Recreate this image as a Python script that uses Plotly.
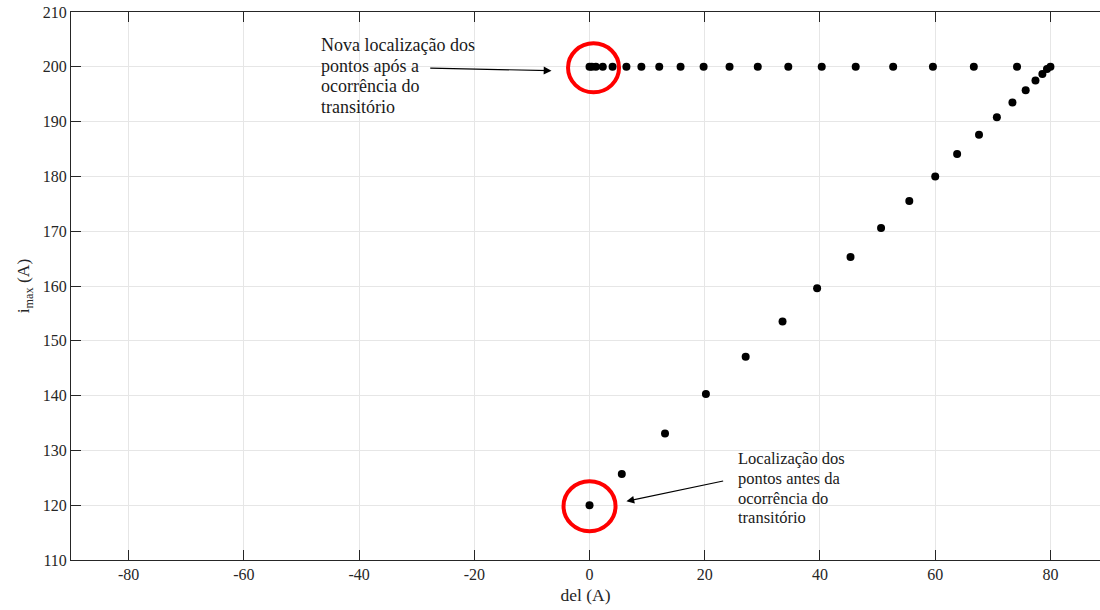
import plotly.graph_objects as go

# ---- data ----
# points before transient (diagonal trajectory)
diag_del = [0, 5.6, 13.1, 20.2, 27.1, 33.5, 39.5, 45.3, 50.6, 55.5, 60.0, 63.8,
            67.6, 70.7, 73.4, 75.7, 77.4, 78.6, 79.4, 80.0]
diag_imax = [120, 125.7, 133.1, 140.3, 147.1, 153.5, 159.6, 165.3, 170.6, 175.5, 180.0, 184.1,
             187.6, 190.8, 193.5, 195.7, 197.5, 198.7, 199.6, 200.0]
# points after transient (top row)
top_del = [0, 0.4, 1.1, 2.3, 4.0, 6.4, 9.0, 12.1, 15.8, 19.8, 24.3, 29.2, 34.5,
           40.3, 46.2, 52.7, 59.6, 66.7, 74.2]
top_imax = [200] * len(top_del)

x_ticks = [-80, -60, -40, -20, 0, 20, 40, 60, 80]
x_ticktext = ["-80", "-60", "-40", "-20", "0", "20", "40", "60", "80"]
y_ticks = [110, 120, 130, 140, 150, 160, 170, 180, 190, 200, 210]

highlight_new = (0, 200)
highlight_old = (0, 120)

note_new = ["Nova localização dos", "pontos após a", "ocorrência do", "transitório"]
note_old = ["Localização dos", "pontos antes da", "ocorrência do", "transitório"]

FONT = "Liberation Serif"
AX = "#262626"
PX_PER_Y = 5.48  # pixel per y-unit, used only for line spacing of notes

fig = go.Figure()
fig.add_trace(go.Scatter(x=diag_del + top_del, y=diag_imax + top_imax, mode="markers",
                         marker=dict(color="black", size=8), showlegend=False,
                         hoverinfo="x+y"))

# red circles (pixel-sized, anchored on data points)
for (cx, cy), dx, rx, ry in [(highlight_new, 4, 25.5, 24.5), (highlight_old, 0, 26, 25)]:
    fig.add_shape(type="circle", xref="x", yref="y", xsizemode="pixel", ysizemode="pixel",
                  xanchor=cx, yanchor=cy, x0=dx - rx, x1=dx + rx, y0=-ry - 1, y1=ry - 1,
                  line=dict(color="#ff0000", width=4), layer="above")


def add_note(lines, x_left, y_first, spacing_px, size, arrow_line, tip, standoff):
    for i, line in enumerate(lines):
        y_line = y_first - spacing_px * i / PX_PER_Y
        common = dict(xref="x", yref="y", xanchor="left", yanchor="middle", text=line,
                      font=dict(family=FONT, size=size, color="#1a1a1a"))
        if i == arrow_line:
            fig.add_annotation(x=tip[0], y=tip[1], axref="x", ayref="y", ax=x_left, ay=y_line,
                               showarrow=True, arrowhead=2, arrowsize=1.3, arrowwidth=1.2,
                               arrowcolor="black", startstandoff=standoff, **common)
        else:
            fig.add_annotation(x=x_left, y=y_line, showarrow=False, **common)


add_note(note_new, -47.0, 203.9, 20.5, 18, 1, (-6.6, 199.3), 10)
add_note(note_old, 25.4, 128.5, 19.7, 16.5, 1, (6.4, 120.7), 13)

fig.update_layout(
    width=1100, height=610,
    margin=dict(l=71, r=0, t=12, b=50),
    paper_bgcolor="white", plot_bgcolor="white",
    font=dict(family=FONT, size=16, color=AX),
    xaxis=dict(range=[-90, 88.6], tickvals=x_ticks, ticktext=x_ticktext, ticks="inside", ticklen=10,
               tickcolor=AX, showline=True, linecolor=AX, linewidth=1, mirror="ticks",
               showgrid=True, gridcolor="#e6e6e6", gridwidth=1, zeroline=False,
               tickfont=dict(family=FONT, size=16, color=AX),
               title=dict(text="del (A)", font=dict(family=FONT, size=17.5, color=AX), standoff=6)),
    yaxis=dict(range=[110, 210], tickvals=y_ticks, ticks="inside", ticklen=10,
               tickcolor=AX, showline=True, linecolor=AX, linewidth=1, mirror=False,
               showgrid=True, gridcolor="#e6e6e6", gridwidth=1, zeroline=False,
               tickfont=dict(family=FONT, size=16, color=AX),
               title=dict(text="i<sub>max</sub> (A)", font=dict(family=FONT, size=17.5, color=AX), standoff=8)),
)

fig.write_html("out.html")
